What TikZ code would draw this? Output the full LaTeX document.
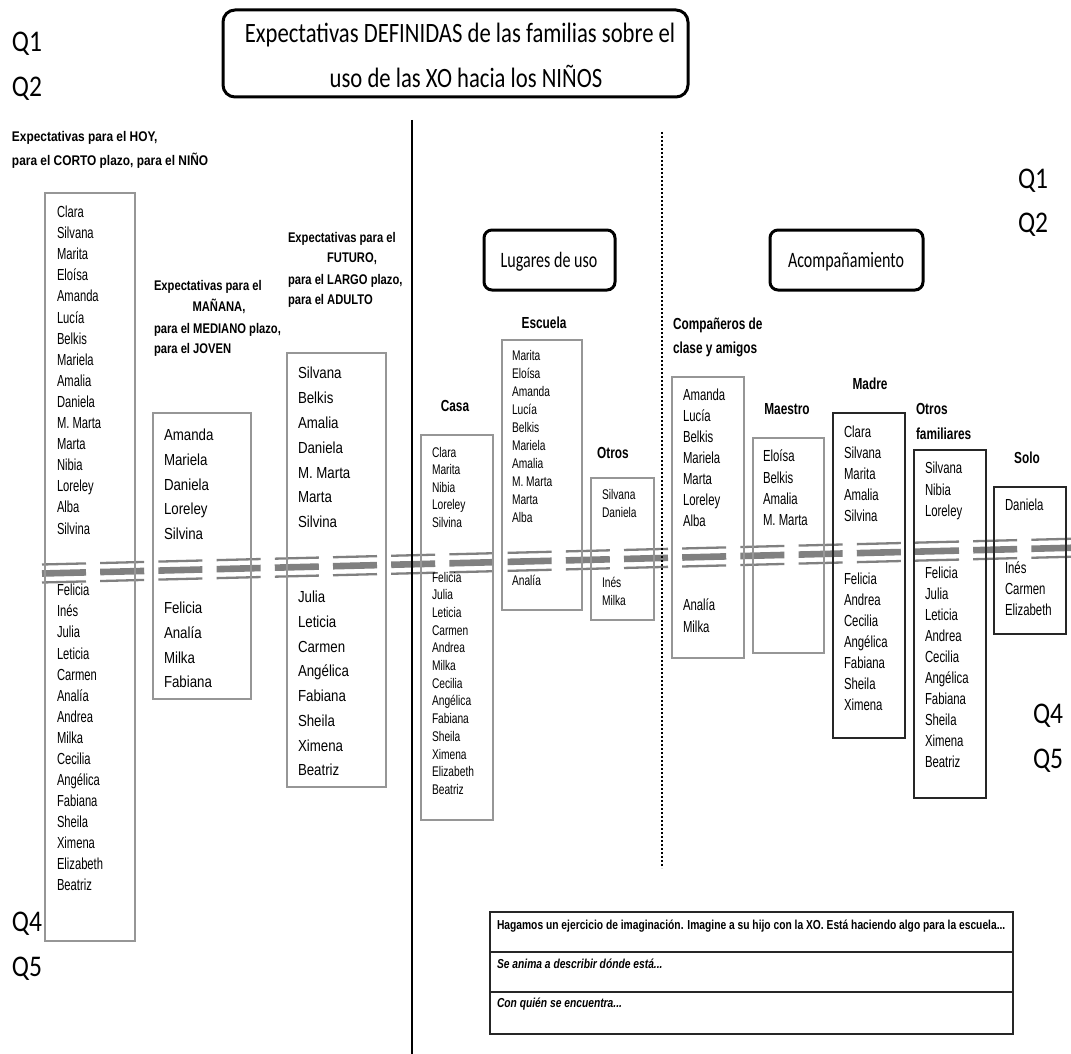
\documentclass[tikz,border=0pt]{standalone}
\usepackage{fontspec}
\setmainfont{Liberation Sans}
\newfontfamily\titlefont[FakeStretch=0.81]{Carlito}
\newfontfamily\qfont[FakeStretch=0.85]{Carlito}
\newfontfamily\boxlabfont[FakeStretch=0.73]{Carlito}
\newfontfamily\nmAfont[FakeStretch=0.70]{Liberation Sans}
\newfontfamily\nmBfont[FakeStretch=0.83]{Liberation Sans}
\newfontfamily\nmCfont[FakeStretch=0.73]{Liberation Sans}
\newfontfamily\nmDfont[FakeStretch=0.71]{Liberation Sans}
\newfontfamily\hdAfont[FakeStretch=0.85]{Liberation Sans}
\newfontfamily\hdBfont[FakeStretch=0.80]{Liberation Sans}
\newfontfamily\hdCfont[FakeStretch=0.74]{Liberation Sans}
\newfontfamily\tblfont[FakeStretch=0.79]{Liberation Sans}
\definecolor{boxgray}{RGB}{150,150,150}
\definecolor{dashgray}{RGB}{128,128,128}
\newcommand\namecol[6]{%
  \foreach \nm [count=\i] in {#6} {\node[#2] (#1\i) at (#3, {#4+#5*(\i-1)}) {\nm};}}
\begin{document}
\begin{tikzpicture}[x=1pt,y=-1pt,
  every node/.style={inner sep=0pt, outer sep=0pt},
  nA/.style={anchor=base west, font=\nmAfont\fontsize{16}{18}\selectfont},
  nB/.style={anchor=base west, font=\nmBfont\fontsize{16}{18}\selectfont},
  nC/.style={anchor=base west, font=\nmCfont\fontsize{14}{16}\selectfont},
  nD/.style={anchor=base west, font=\nmDfont\fontsize{16}{18}\selectfont},
  hA/.style={anchor=base west, font=\hdAfont\bfseries\fontsize{14}{16}\selectfont},
  hB/.style={anchor=base west, font=\hdBfont\bfseries\fontsize{14}{16}\selectfont},
  hC/.style={anchor=base, font=\hdCfont\bfseries\fontsize{16}{18}\selectfont},
  hCw/.style={hC, anchor=base west},
  qlab/.style={anchor=base west, font=\qfont\fontsize{30}{32}\selectfont},
  gbox/.style={draw=boxgray, line width=1.3},
  kbox/.style={draw=black!85, line width=1.4},
  rbox/.style={draw=black, line width=3, rounded corners=8},
  dashseg/.style={draw=dashgray},
  tbl/.style={anchor=base west, font=\tblfont\bfseries\fontsize{13}{15}\selectfont},
  tbli/.style={tbl, font=\tblfont\bfseries\itshape\fontsize{13}{15}\selectfont}]
\useasboundingbox (0,0) rectangle (1071,1054);
\fill[white] (0,0) rectangle (1071,1054);

% broken separator
\foreach \k in {0,...,17}{
  \pgfmathsetmacro\xa{42+58.2*\k}
  \pgfmathsetmacro\xb{\xa+44}
  \pgfmathsetmacro\ya{573.5-0.025*(\xa-42)}
  \pgfmathsetmacro\yb{573.5-0.025*(\xb-42)}
  \draw[dashseg, line width=6.6] (\xa,\ya) -- (\xb,\yb);
  \draw[dashseg, line width=2.3] (\xa,\ya-9) -- (\xb,\yb-9);
  \draw[dashseg, line width=2.3] (\xa,\ya+9) -- (\xb,\yb+9);
}

% title
\draw[black, line width=3, rounded corners=12] (223,10) rectangle (688,97);
\node[anchor=base, font=\titlefont\fontsize{28}{30}\selectfont] (t1) at (460,43) {Expectativas DEFINIDAS de las familias sobre el};
\node[anchor=base, font=\titlefont\fontsize{28}{30}\selectfont] (t2) at (466,88) {uso de las XO hacia los NIÑOS};

% Q labels
\node[qlab] (q1l) at (12,52) {Q1};
\node[qlab] (q2l) at (12,97) {Q2};
\node[qlab] (q1r) at (1018,188) {Q1};
\node[qlab] (q2r) at (1018,232) {Q2};
\node[qlab] (q4l) at (12,931) {Q4};
\node[qlab] (q5l) at (12,976) {Q5};
\node[qlab] (q4r) at (1033,723) {Q4};
\node[qlab] (q5r) at (1033,768) {Q5};

% dividing lines
\draw[black, line width=2] (412,120) -- (412,1054);
\draw[black, line width=2, dash pattern=on 2pt off 2pt] (662,132) -- (662,868);

% HOY column
\node[hA] (hoy1) at (12,142) {Expectativas para el HOY,};
\node[hA] (hoy2) at (12,166) {para el CORTO plazo, para el NIÑO};
\draw[gbox] (45,193) rectangle (135,941);
\namecol{ba}{nA}{57}{217.5}{21.1}{Clara,Silvana,Marita,Eloísa,Amanda,Lucía,Belkis,Mariela,Amalia,Daniela,M. Marta,Marta,Nibia,Loreley,Alba,Silvina}
\namecol{bb}{nA}{57}{595.8}{21.07}{Felicia,Inés,Julia,Leticia,Carmen,Analía,Andrea,Milka,Cecilia,Angélica,Fabiana,Sheila,Ximena,Elizabeth,Beatriz}

% MAÑANA column
\node[hB] (man1) at (154,290) {Expectativas para el};
\node[hB, anchor=base] (man2) at (219,311) {MAÑANA,};
\node[hB] (man3) at (154,333) {para el MEDIANO plazo,};
\node[hB] (man4) at (154,353) {para el JOVEN};
\draw[gbox] (153,413) rectangle (251,699);
\namecol{ma}{nB}{164}{440.8}{24.6}{Amanda,Mariela,Daniela,Loreley,Silvina}
\namecol{mb}{nB}{164}{613.8}{24.6}{Felicia,Analía,Milka,Fabiana}

% FUTURO column
\node[hB] (fut1) at (288,242) {Expectativas para el};
\node[hB, anchor=base] (fut2) at (352,262) {FUTURO,};
\node[hB] (fut3) at (288,284) {para el LARGO plazo,};
\node[hB] (fut4) at (288,304) {para el ADULTO};
\draw[gbox] (287,353) rectangle (386,787);
\namecol{fa}{nB}{298}{378.8}{24.8}{Silvana,Belkis,Amalia,Daniela,M. Marta,Marta,Silvina}
\namecol{fb}{nB}{298}{602.8}{24.7}{Julia,Leticia,Carmen,Angélica,Fabiana,Sheila,Ximena,Beatriz}

% Lugares de uso
\draw[rbox] (484,230) rectangle (615,290);
\node[anchor=base, font=\boxlabfont\fontsize{22}{24}\selectfont] (lug) at (549,267) {Lugares de uso};
\node[hC] (casah) at (455,411) {Casa};
\draw[gbox] (421,435) rectangle (493,820);
\namecol{ca}{nC}{432}{457}{17.6}{Clara,Marita,Nibia,Loreley,Silvina}
\namecol{cb}{nC}{432}{582}{17.7}{Felicia,Julia,Leticia,Carmen,Andrea,Milka,Cecilia,Angélica,Fabiana,Sheila,Ximena,Elizabeth,Beatriz}
\node[hC] (escuh) at (544,328) {Escuela};
\draw[gbox] (502,340) rectangle (582,610);
\namecol{ea}{nC}{512}{360}{18}{Marita,Eloísa,Amanda,Lucía,Belkis,Mariela,Amalia,M. Marta,Marta,Alba}
\namecol{eb}{nC}{512}{585}{18}{Analía}
\node[hC] (otrh) at (613,458) {Otros};
\draw[gbox] (591,478) rectangle (654,620);
\namecol{oa}{nC}{602}{499}{18}{Silvana,Daniela}
\namecol{ob}{nC}{602}{587}{18}{Inés,Milka}

% Acompañamiento
\draw[rbox] (770,230) rectangle (923,290);
\node[anchor=base, font=\boxlabfont\fontsize{22}{24}\selectfont] (aco) at (846,267) {Acompañamiento};
\node[hCw] (comp1) at (673,329) {Compañeros de};
\node[hCw] (comp2) at (673,353) {clase  y amigos};
\draw[gbox] (672,377) rectangle (744,658);
\namecol{pa}{nD}{683}{400.8}{21}{Amanda,Lucía,Belkis,Mariela,Marta,Loreley,Alba}
\namecol{pb}{nD}{683}{610.8}{21.5}{Analía,Milka}
\node[hC] (maeh) at (787,414) {Maestro};
\draw[gbox] (753,438) rectangle (824,653);
\namecol{sa}{nD}{763}{461.8}{21.3}{Eloísa,Belkis,Amalia,M. Marta}
\node[hC] (madh) at (870,389) {Madre};
\draw[kbox] (833,413) rectangle (905,738);
\namecol{da}{nD}{844}{437.8}{21}{Clara,Silvana,Marita,Amalia,Silvina}
\namecol{db}{nD}{844}{584.8}{21}{Felicia,Andrea,Cecilia,Angélica,Fabiana,Sheila,Ximena}
\node[hCw] (ofa1) at (916,414) {Otros};
\node[hCw] (ofa2) at (916,439) {familiares};
\draw[kbox] (914,450) rectangle (986,798);
\namecol{fa}{nD}{925}{473.8}{21.5}{Silvana,Nibia,Loreley}
\namecol{fb}{nD}{925}{578.8}{21}{Felicia,Julia,Leticia,Andrea,Cecilia,Angélica,Fabiana,Sheila,Ximena,Beatriz}
\node[hC] (soloh) at (1027,463) {Solo};
\draw[kbox] (994,487) rectangle (1066,634);
\namecol{la}{nD}{1005}{510.8}{21}{Daniela}
\namecol{lb}{nD}{1005}{573.8}{21}{Inés,Carmen,Elizabeth}

% question table
\draw[black!85, line width=1.5] (490,912) rectangle (1013,1034);
\draw[black!85, line width=1.5] (490,952) -- (1013,952);
\draw[black!85, line width=1.5] (490,992) -- (1013,992);
\node[tbl] (r1) at (497,929) {Hagamos un ejercicio de imaginación. Imagine a su hijo con la XO. Está haciendo algo para la escuela...};
\node[tbli] (r2) at (497,968) {Se anima a describir dónde está...};
\node[tbli] (r3) at (497,1007) {Con quién se encuentra...};
\end{tikzpicture}
\end{document}
